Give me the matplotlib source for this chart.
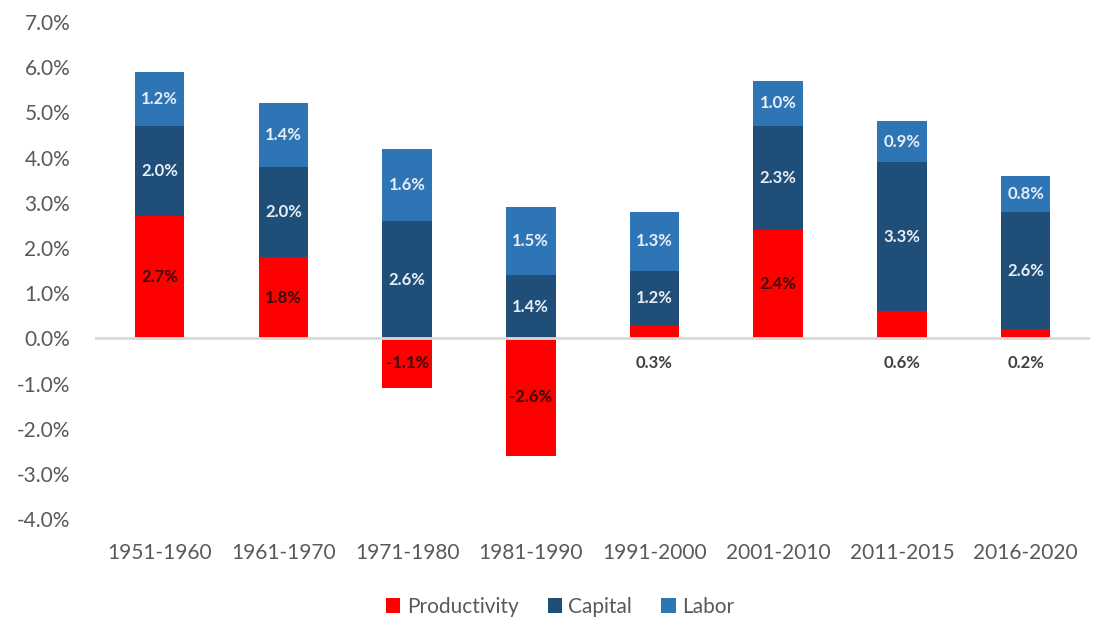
import matplotlib.pyplot as plt
import numpy as np

periods = ['1951-1960', '1961-1970', '1971-1980', '1981-1990',
           '1991-2000', '2001-2010', '2011-2015', '2016-2020']
productivity = [2.7, 1.8, -1.1, -2.6, 0.3, 2.4, 0.6, 0.2]
capital = [2.0, 2.0, 2.6, 1.4, 1.2, 2.3, 3.3, 2.6]
labor = [1.2, 1.4, 1.6, 1.5, 1.3, 1.0, 0.9, 0.8]

c_prod = '#FF0000'
c_cap = '#1F4E79'
c_lab = '#2E75B6'

plt.rcParams['font.family'] = ['Lato', 'DejaVu Sans']

fig = plt.figure(figsize=(10.94, 6.27), dpi=100)
ax = fig.add_axes([0.087, 0.172, 0.909, 0.793])

x = np.arange(len(periods))
prod = np.array(productivity)
cap = np.array(capital)
lab = np.array(labor)
w = 0.40

# capital stacks on top of positive productivity, starts at 0 otherwise
cap_base = np.where(prod > 0, prod, 0)
lab_base = cap_base + cap

ax.bar(x, prod, w, color=c_prod, label='Productivity', zorder=2)
ax.bar(x, cap, w, bottom=cap_base, color=c_cap, label='Capital', zorder=2)
ax.bar(x, lab, w, bottom=lab_base, color=c_lab, label='Labor', zorder=2)

ax.axhline(0, color='#D9D9D9', lw=2, zorder=3)

lbl = dict(ha='center', va='center', fontsize=12, fontweight='bold', zorder=4)
for i in range(len(x)):
    p = prod[i]
    if abs(p) >= 1.0:
        ax.text(x[i], p / 2, f'{p:.1f}%', color='#3A0A0A', **lbl)
    else:
        ax.text(x[i], -0.55, f'{p:.1f}%', color='#404040', **lbl)
    ax.text(x[i], cap_base[i] + cap[i] / 2, f'{cap[i]:.1f}%', color='#E8EEF6', **lbl)
    ax.text(x[i], lab_base[i] + lab[i] / 2, f'{lab[i]:.1f}%', color='#E8EEF6', **lbl)

ax.set_ylim(-4, 7)
ax.set_yticks(np.arange(-4, 8, 1))
ax.set_yticklabels([f'{v:.1f}%' for v in np.arange(-4, 8, 1)])
ax.set_xlim(-0.521, len(x) - 0.483)
ax.set_xticks(x)
ax.set_xticklabels(periods)
ax.tick_params(axis='both', length=0, labelsize=15, labelcolor='#595959')
ax.tick_params(axis='x', pad=17)
ax.tick_params(axis='y', pad=18)
for s in ax.spines.values():
    s.set_visible(False)

fig.legend(loc='center', bbox_to_anchor=(0.512, 0.032), ncol=3, frameon=False,
           fontsize=15, labelcolor='#595959', handlelength=0.7, handleheight=0.7,
           handletextpad=0.3, columnspacing=1.4)

fig.savefig('out.png', dpi=100)
